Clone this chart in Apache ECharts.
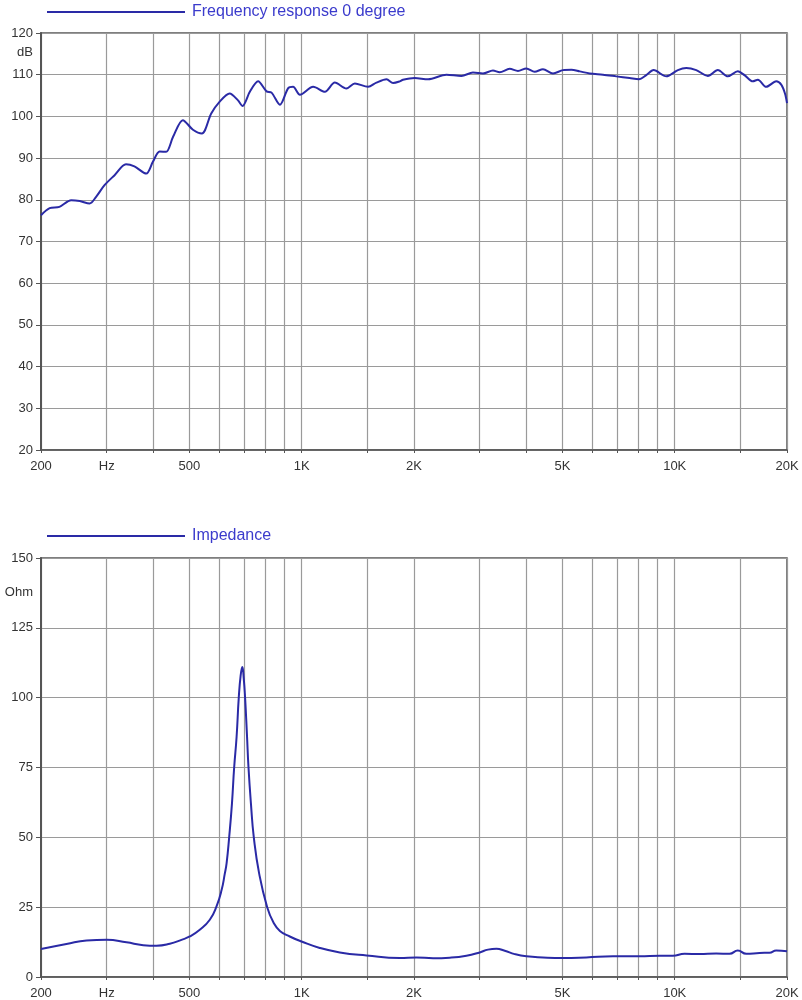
<!DOCTYPE html>
<html>
<head>
<meta charset="utf-8">
<script src="https://cdn.jsdelivr.net/npm/echarts@6/dist/echarts.min.js"></script>
<style>
html,body{margin:0;padding:0;background:#fff;}
#c{width:802px;height:1000px;}
</style>
</head>
<body>
<div id="c"></div>
<script>
// ---- data ----
var frFreq = [200,211,224,241,254,270,281,296,315,338,356,383,399,416,433,452,480,511,540,572,602,641,674,694,726,764,805,830,874,920,948,989,1073,1154,1227,1318,1388,1506,1586,1688,1758,1832,1869,2009,2182,2443,2680,2878,3062,3256,3394,3610,3800,4002,4212,4434,4717,5016,5284,5563,5916,6420,6972,7568,8015,8391,8777,9495,10198,10740,11422,12268,13048,13878,14762,15384,16194,16706,17595,18712,19300,19750,20000];
var frDb   = [76.3,78.0,78.3,79.9,79.7,79.1,80.7,83.5,85.9,88.5,88.0,86.3,89.1,91.6,91.5,95.1,99.1,96.8,95.9,100.7,103.5,105.5,103.9,102.5,105.9,108.4,106.0,105.7,102.8,106.8,107.1,105.2,107.1,105.9,108.1,106.7,107.9,107.1,108.1,108.9,108.0,108.4,108.8,109.2,108.9,110.0,109.7,110.5,110.3,111.0,110.6,111.4,110.9,111.5,110.7,111.3,110.3,111.1,111.2,110.8,110.3,110.0,109.6,109.2,108.9,109.9,111.1,109.6,111.1,111.6,111.1,109.7,111.1,109.6,110.8,109.9,108.4,108.8,107.1,108.4,107.6,105.5,103.2];

var zFreq = [200,234,265,300,339,376,408,443,476,501,533,567,591,610,622,629,639,650,659,669,678,686,693,699,705,713,720,731,744,769,808,840,874,929,999,1118,1265,1492,1832,2030,2250,2494,2764,3002,3158,3327,3502,3724,4002,4434,5016,5794,6830,8052,9110,9886,10628,11658,12920,14030,14762,15550,16880,17954,18712,20000];
var zOhm  = [10.0,11.8,13.1,13.3,12.4,11.4,11.2,11.9,13.3,14.5,16.9,20.5,25.3,31.2,37.0,40.8,50.0,62.0,75.0,86.0,100.0,108.0,111.0,107.0,100.0,87.0,75.0,62.0,50.0,37.0,25.0,19.5,16.5,14.5,12.7,10.4,8.8,7.7,6.8,7.0,6.7,6.9,7.6,8.8,9.8,10.1,9.4,8.2,7.4,7.0,6.8,7.0,7.4,7.4,7.6,7.6,8.3,8.2,8.4,8.3,9.5,8.3,8.6,8.7,9.5,9.2];

var gridFreqs  = [200,300,400,500,600,700,800,900,1000,1500,2000,3000,4000,5000,6000,7000,8000,9000,10000,15000,20000];
var labelFreqs = [200,300,500,1000,2000,5000,10000,20000];
var labelTexts = ['200','Hz','500','1K','2K','5K','10K','20K'];
var dbTicks = {min:20, max:120, interval:10};
var ohmTicks = {min:0, max:150, interval:25};

// ---- build ----
function lg(f){ return Math.log10(f); }
function pairs(fs, vs){ return fs.map(function(f,i){ return [lg(f), vs[i]]; }); }
var labelMap = {};
labelFreqs.forEach(function(f,i){ labelMap[f] = labelTexts[i]; });

var lineColor = '#2a2aa6';
var textBlue = '#3b3bcc';
var axisDark = '#555';
var gridGray = '#9a9a9a';
var font = 'Liberation Sans, Arial, sans-serif';

function xAxisDef(idx){
  return {
    type:'value', gridIndex: idx,
    min: lg(200), max: lg(20000),
    axisLine:{show:true, lineStyle:{color:axisDark, width:1.5}},
    axisTick:{show:true, length:3, customValues: gridFreqs.map(lg), lineStyle:{color:axisDark}},
    splitLine:{show:true, lineStyle:{color:gridGray, width:1.2}},
    axisLabel:{
      customValues: labelFreqs.map(lg),
      margin: 10,
      color:'#333', fontSize:13, fontFamily:font,
      formatter:function(v){ var f = Math.round(Math.pow(10, v)); return labelMap[f] || ''; }
    }
  };
}
function yAxisDef(idx, t){
  return {
    type:'value', gridIndex: idx,
    min:t.min, max:t.max, interval:t.interval,
    axisLine:{show:true, lineStyle:{color:axisDark, width:2}},
    axisTick:{show:true, length:5, lineStyle:{color:axisDark}},
    splitLine:{show:true, lineStyle:{color:gridGray, width:1.2}},
    axisLabel:{margin:8, color:'#333', fontSize:13, fontFamily:font}
  };
}

var chart = echarts.init(document.getElementById('c'));
chart.setOption({
  animation:false,
  backgroundColor:'#fff',
  legend:[
    {data:['Frequency response 0 degree'], left:47, top:4, padding:0, icon:'rect', itemWidth:138, itemHeight:2, itemGap:0,
     textStyle:{color:textBlue, fontSize:16, fontFamily:font, padding:[0,0,0,2]}, selectedMode:false},
    {data:['Impedance'], left:47, top:528, padding:0, icon:'rect', itemWidth:138, itemHeight:2, itemGap:0,
     textStyle:{color:textBlue, fontSize:16, fontFamily:font, padding:[0,0,0,2]}, selectedMode:false}
  ],
  grid:[
    {left:41, right:15, top:33, height:417, show:true, borderColor:axisDark, borderWidth:1.5, backgroundColor:'transparent'},
    {left:41, right:15, top:558, height:419, show:true, borderColor:axisDark, borderWidth:1.5, backgroundColor:'transparent'}
  ],
  xAxis:[xAxisDef(0), xAxisDef(1)],
  yAxis:[yAxisDef(0, dbTicks), yAxisDef(1, ohmTicks)],
  graphic:[
    {type:'text', right:802-33, top:46, style:{text:'dB', fill:'#333', font:'13px '+font, textAlign:'right'}},
    {type:'text', right:802-33, top:586, style:{text:'Ohm', fill:'#333', font:'13px '+font, textAlign:'right'}}
  ],
  series:[
    {name:'Frequency response 0 degree', type:'line', xAxisIndex:0, yAxisIndex:0, data:pairs(frFreq, frDb),
     showSymbol:false, smooth:0.3, lineStyle:{color:lineColor, width:2}, itemStyle:{color:lineColor}},
    {name:'Impedance', type:'line', xAxisIndex:1, yAxisIndex:1, data:pairs(zFreq, zOhm),
     showSymbol:false, smooth:0.5, lineStyle:{color:lineColor, width:2}, itemStyle:{color:lineColor}}
  ]
});
</script>
</body>
</html>
